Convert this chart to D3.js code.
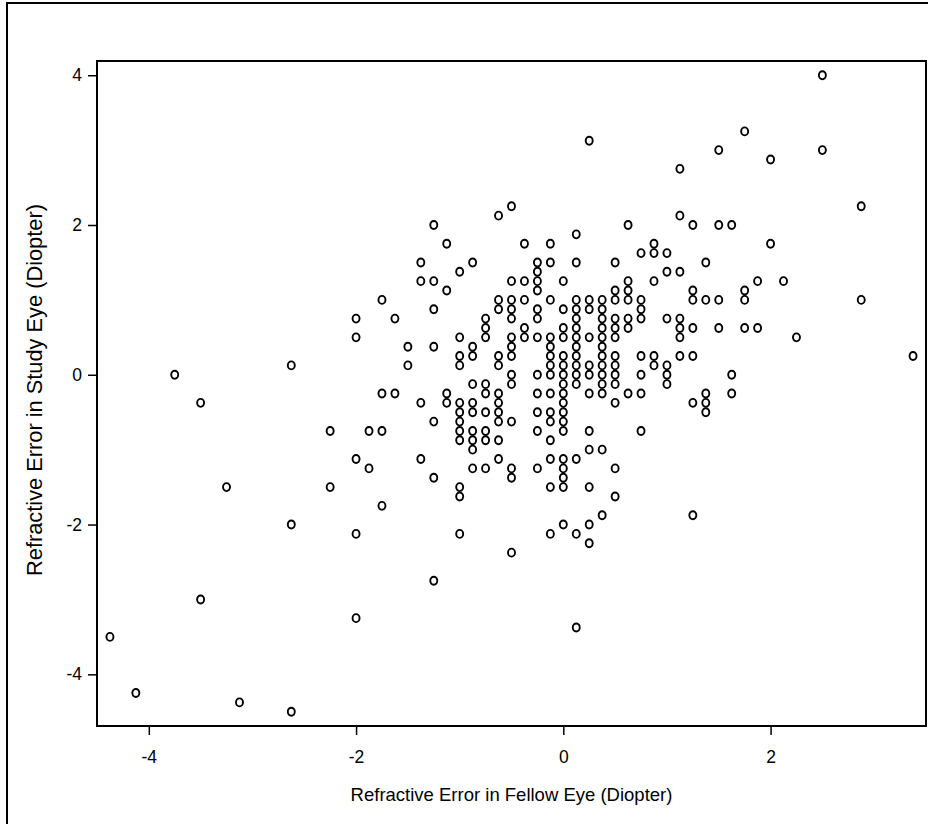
<!DOCTYPE html>
<html>
<head>
<meta charset="utf-8">
<script src="https://cdn.jsdelivr.net/npm/d3@7"></script>
<style>
  html, body { margin: 0; padding: 0; background: #fff; }
  text { font-family: "Liberation Sans", Arial, sans-serif; fill: #000; }
</style>
</head>
<body>
<svg id="chart"></svg>
<script>
// Refractive error, fellow eye (x) vs study eye (y), in diopters
const fellowEye = [
  -4.375, -4.125, -3.75, -3.5, -3.5, -3.25, -3.125, -2.625, -2.625, -2.625,
  -2.25, -2.25, -2, -2, -2, -2, -2, -1.875, -1.875,
  -1.75, -1.75, -1.75, -1.75, -1.625, -1.625, -1.5, -1.5,
  -1.375, -1.375, -1.375, -1.375,
  -1.25, -1.25, -1.25, -1.25, -1.25, -1.25, -1.25,
  -1.125, -1.125, -1.125, -1.125,
  -1, -1, -1, -1, -1, -1, -1, -1, -1, -1, -1, -1,
  -0.875, -0.875, -0.875, -0.875, -0.875, -0.875, -0.875, -0.875, -0.875, -0.875,
  -0.75, -0.75, -0.75, -0.75, -0.75, -0.75, -0.75, -0.75, -0.75,
  -0.625, -0.625, -0.625, -0.625, -0.625, -0.625, -0.625, -0.625, -0.625, -0.625, -0.625,
  -0.5, -0.5, -0.5, -0.5, -0.5, -0.5, -0.5, -0.5, -0.5, -0.5, -0.5, -0.5, -0.5, -0.5,
  -0.375, -0.375, -0.375, -0.375, -0.375,
  -0.25, -0.25, -0.25, -0.25, -0.25, -0.25, -0.25, -0.25, -0.25, -0.25, -0.25, -0.25,
  -0.125, -0.125, -0.125, -0.125, -0.125, -0.125, -0.125, -0.125, -0.125, -0.125,
  -0.125, -0.125, -0.125, -0.125, -0.125,
  0, 0, 0, 0, 0, 0, 0, 0, 0, 0, 0, 0, 0, 0, 0, 0, 0, 0,
  0.125, 0.125, 0.125, 0.125, 0.125, 0.125, 0.125, 0.125, 0.125, 0.125, 0.125, 0.125,
  0.125, 0.125, 0.125,
  0.25, 0.25, 0.25, 0.25, 0.25, 0.25, 0.25, 0.25, 0.25, 0.25, 0.25, 0.25,
  0.375, 0.375, 0.375, 0.375, 0.375, 0.375, 0.375, 0.375, 0.375, 0.375, 0.375, 0.375, 0.375,
  0.5, 0.5, 0.5, 0.5, 0.5, 0.5, 0.5, 0.5, 0.5, 0.5, 0.5, 0.5, 0.5,
  0.625, 0.625, 0.625, 0.625, 0.625, 0.625, 0.625,
  0.75, 0.75, 0.75, 0.75, 0.75, 0.75, 0.75, 0.75,
  0.875, 0.875, 0.875, 0.875, 0.875,
  1, 1, 1, 1, 1, 1,
  1.125, 1.125, 1.125, 1.125, 1.125, 1.125, 1.125,
  1.25, 1.25, 1.25, 1.25, 1.25, 1.25, 1.25,
  1.375, 1.375, 1.375, 1.375, 1.375,
  1.5, 1.5, 1.5, 1.5,
  1.625, 1.625, 1.625,
  1.75, 1.75, 1.75, 1.75,
  1.875, 1.875,
  2, 2, 2.125, 2.25, 2.5, 2.5, 2.875, 2.875, 3.375
];

const studyEye = [
  -3.5, -4.25, 0, -0.375, -3, -1.5, -4.375, 0.125, -2, -4.5,
  -0.75, -1.5, 0.75, 0.5, -1.125, -2.125, -3.25, -0.75, -1.25,
  1, -0.25, -0.75, -1.75, 0.75, -0.25, 0.375, 0.125,
  1.5, 1.25, -0.375, -1.125,
  2, 1.25, 0.875, 0.375, -0.625, -1.375, -2.75,
  1.75, 1.125, -0.25, -0.375,
  1.375, 0.5, 0.25, 0.125, -0.375, -0.5, -0.625, -0.75, -0.875, -1.5, -1.625, -2.125,
  1.5, 0.375, 0.25, -0.125, -0.375, -0.5, -0.75, -0.875, -1, -1.25,
  0.75, 0.625, 0.5, -0.125, -0.25, -0.5, -0.75, -0.875, -1.25,
  2.125, 1, 0.875, 0.25, 0.125, -0.25, -0.375, -0.5, -0.625, -0.875, -1.125,
  2.25, 1.25, 1, 0.875, 0.75, 0.5, 0.375, 0.25, 0, -0.125, -0.625, -1.25, -1.375, -2.375,
  1.75, 1.25, 1, 0.625, 0.5,
  1.5, 1.375, 1.25, 1.125, 0.875, 0.75, 0.5, 0, -0.25, -0.5, -0.75, -1.25,
  1.75, 1.5, 1, 0.5, 0.375, 0.25, 0.125, 0, -0.25, -0.5,
  -0.625, -0.875, -1.125, -1.5, -2.125,
  1.25, 0.875, 0.625, 0.5, 0.25, 0.125, 0, -0.125, -0.25, -0.375, -0.5, -0.625, -0.75, -1.125, -1.25, -1.375, -1.5, -2,
  1.875, 1.5, 1, 0.875, 0.75, 0.625, 0.5, 0.375, 0.25, 0.125, 0, -0.125,
  -1.125, -2.125, -3.375,
  3.125, 1, 0.875, 0.5, 0.125, 0, -0.25, -0.75, -1, -1.5, -2, -2.25,
  1, 0.875, 0.75, 0.625, 0.5, 0.375, 0.25, 0.125, 0, -0.125, -0.25, -1, -1.875,
  1.5, 1.125, 1, 0.75, 0.625, 0.5, 0.25, 0.125, 0, -0.125, -0.375, -1.25, -1.625,
  2, 1.25, 1.125, 1, 0.75, 0.625, -0.25,
  1.625, 1, 0.875, 0.75, 0.25, 0, -0.25, -0.75,
  1.75, 1.625, 1.25, 0.25, 0.125,
  1.625, 1.375, 0.75, 0.125, 0, -0.125,
  2.75, 2.125, 1.375, 0.75, 0.625, 0.5, 0.25,
  2, 1.125, 1, 0.625, 0.25, -0.375, -1.875,
  1.5, 1, -0.25, -0.375, -0.5,
  3, 2, 1, 0.625,
  2, 0, -0.25,
  3.25, 1.125, 1, 0.625,
  1.25, 0.625,
  2.875, 1.75, 1.25, 0.5, 4, 3, 2.25, 1, 0.25
];

const xTicks = [-4, -2, 0, 2];
const yTicks = [-4, -2, 0, 2, 4];

const xLabel = "Refractive Error in Fellow Eye (Diopter)";
const yLabel = "Refractive Error in Study Eye (Diopter)";

const points = fellowEye.map((x, i) => ({ x, y: studyEye[i] }));

// Layout
const width = 928;
const height = 824;
const plot = { left: 97, top: 61, right: 926, bottom: 726 };

const svg = d3.select("#chart")
  .attr("width", width)
  .attr("height", height)
  .style("display", "block")
  .style("background", "#fff");

// outer frame (runs off the bottom/right edge)
svg.append("rect")
  .attr("x", 7)
  .attr("y", 3)
  .attr("width", width + 20)
  .attr("height", height + 20)
  .attr("fill", "none")
  .attr("stroke", "#000")
  .attr("stroke-width", 2);

const x = d3.scaleLinear()
  .domain([-4.5, 3.5])
  .range([plot.left, plot.right]);

const y = d3.scaleLinear()
  .domain([-4.69, 4.19])
  .range([plot.bottom, plot.top]);

// Axes
const xAxis = svg.append("g")
  .attr("transform", `translate(0,${plot.bottom})`)
  .call(d3.axisBottom(x).tickValues(xTicks).tickSize(9).tickPadding(16).tickSizeOuter(0)
    .tickFormat(d3.format("d")));

const yAxis = svg.append("g")
  .attr("transform", `translate(${plot.left},0)`)
  .call(d3.axisLeft(y).tickValues(yTicks).tickSize(9).tickPadding(6).tickSizeOuter(0)
    .tickFormat(d3.format("d")));

[xAxis, yAxis].forEach(a => {
  a.select(".domain").remove();
  a.selectAll(".tick line").attr("stroke", "#000").attr("stroke-width", 1.5);
  a.selectAll(".tick text")
    .attr("fill", "#000")
    .style("font-size", "17.5px")
    .style("font-family", "'Liberation Sans', Arial, sans-serif");
});

// Replace d3's minus sign with a plain hyphen, like the original
svg.selectAll(".tick text").text(d => String(d));

// Plot frame
svg.append("rect")
  .attr("x", plot.left)
  .attr("y", plot.top)
  .attr("width", plot.right - plot.left)
  .attr("height", plot.bottom - plot.top)
  .attr("fill", "none")
  .attr("stroke", "#000")
  .attr("stroke-width", 2);

// Markers
svg.append("g")
  .selectAll("ellipse")
  .data(points)
  .join("ellipse")
  .attr("cx", d => x(d.x))
  .attr("cy", d => y(d.y))
  .attr("rx", 3.5)
  .attr("ry", 4.0)
  .attr("fill", "none")
  .attr("stroke", "#000")
  .attr("stroke-width", 1.9);

// Axis titles
svg.append("text")
  .attr("x", (plot.left + plot.right) / 2)
  .attr("y", 801)
  .attr("text-anchor", "middle")
  .style("font-size", "18.5px")
  .text(xLabel);

svg.append("text")
  .attr("transform", `translate(42,390) rotate(-90)`)
  .attr("text-anchor", "middle")
  .style("font-size", "21.8px")
  .text(yLabel);
</script>
</body>
</html>
